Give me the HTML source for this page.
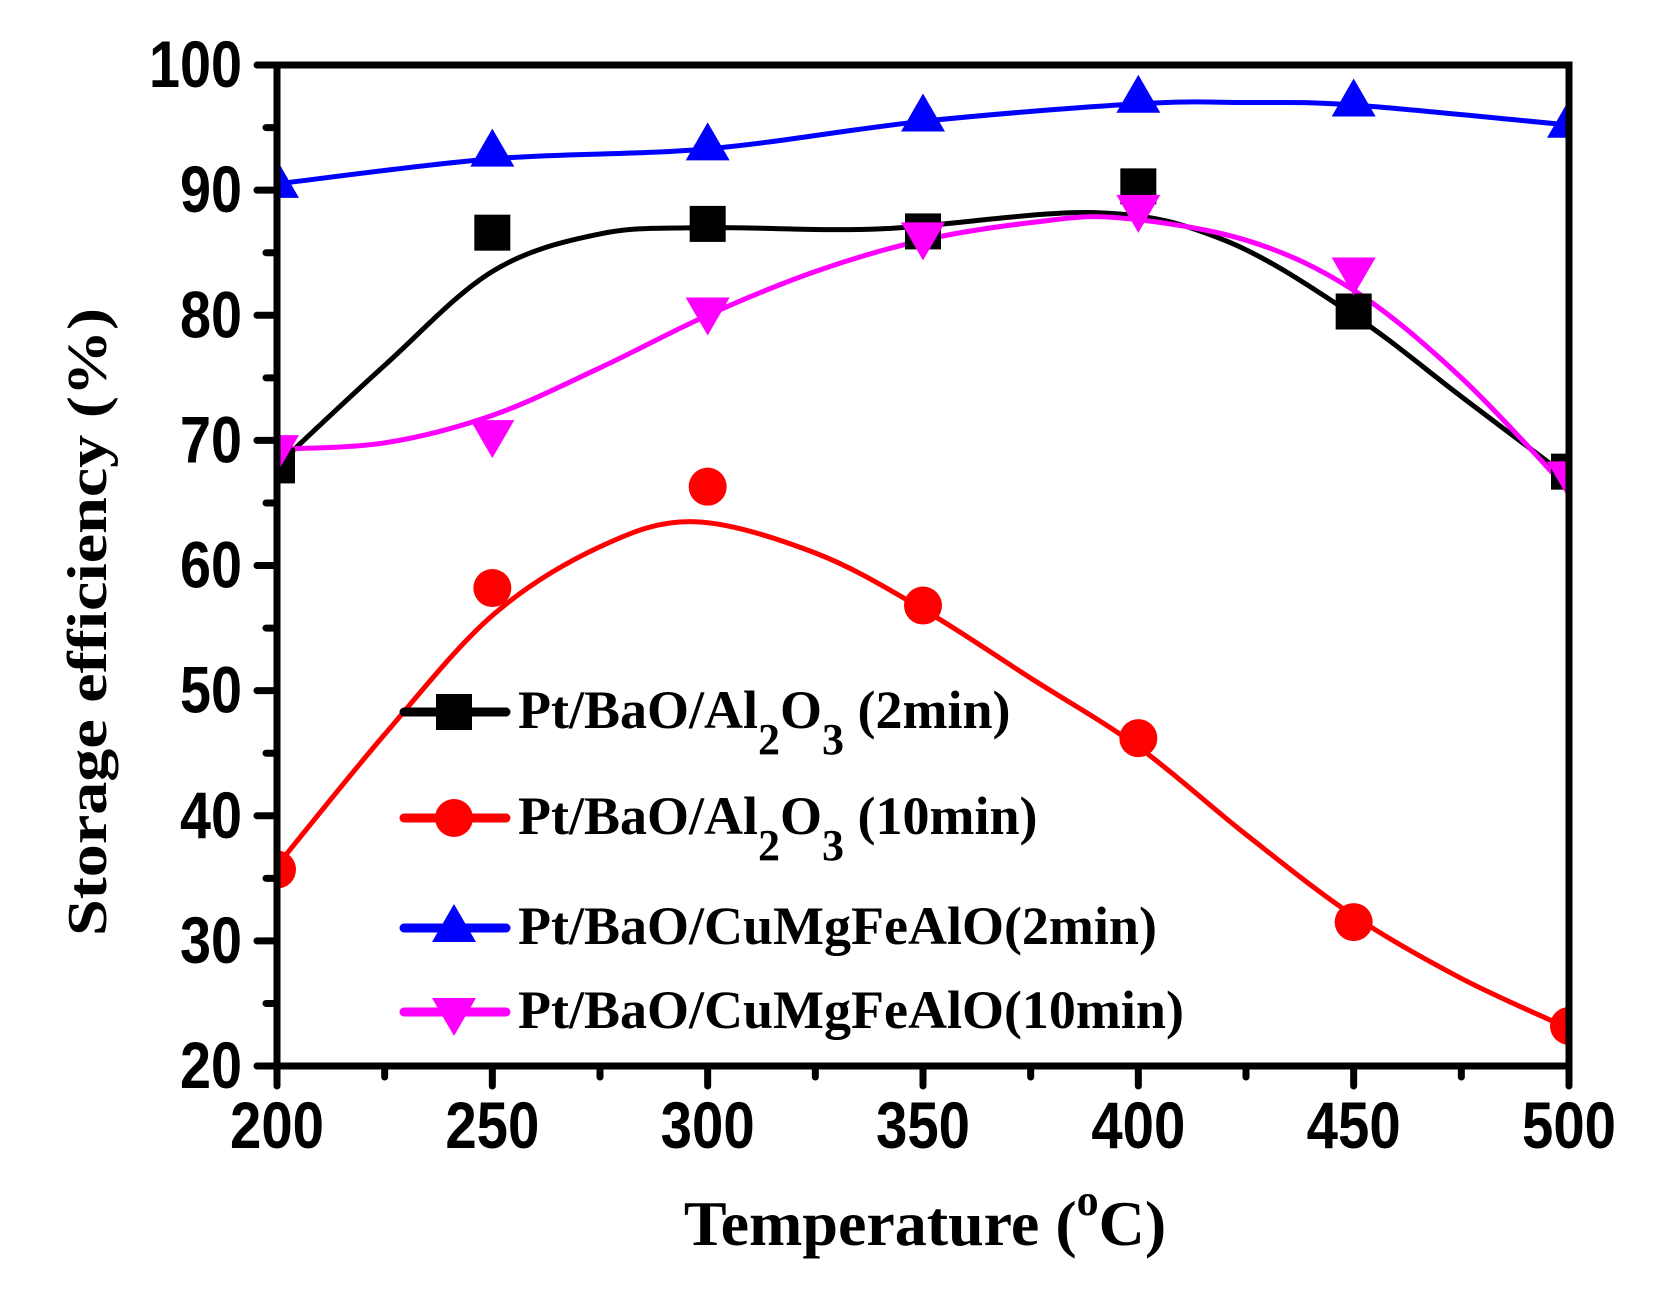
<!DOCTYPE html>
<html><head><meta charset="utf-8"><style>html,body{margin:0;padding:0;background:#fff}svg{display:block}</style></head>
<body>
<svg id="s" width="1659" height="1295" xmlns="http://www.w3.org/2000/svg"></svg>
<script>
const s=document.getElementById('s');
const X0=277,X1=1569,Y0=1066,Y1=65;
const px=v=>X0+(v-200)/300*(X1-X0), py=v=>Y0-(v-20)/80*(Y0-Y1);
let h='';
function cr(pts){let d=`M${pts[0][0]},${pts[0][1]}`;for(let i=0;i<pts.length-1;i++){const p0=pts[i-1]||pts[i],p1=pts[i],p2=pts[i+1],p3=pts[i+2]||p2;
d+=` C${p1[0]+(p2[0]-p0[0])/6},${p1[1]+(p2[1]-p0[1])/6} ${p2[0]-(p3[0]-p1[0])/6},${p2[1]-(p3[1]-p1[1])/6} ${p2[0]},${p2[1]}`;}return d;}
const curves=[
['#000',[[200,68],[225,76],[250,83.5],[275,86.5],[300,87],[340,86.9],[390,88.2],[420,86],[450,80],[475,73.5],[500,67]]],
['#f00',[[200,36],[225,46.5],[250,56],[275,61.5],[297,63.5],[325,61],[350,56.5],[375,51],[400,45.5],[425,38.5],[450,32],[475,27],[500,23]]],
['#00f',[[200,90.5],[250,92.5],[300,93.3],[350,95.5],[400,96.9],[425,97],[450,96.8],[500,95.2]]],
['#f0f',[[200,69.3],[225,69.8],[250,72],[275,75.8],[300,80],[325,83.5],[350,86],[375,87.4],[395,87.8],[425,86],[450,82],[475,75],[500,66]]]];
const pts={
'#000':[68,86.6,87.3,86.7,90.3,80.3,67.5],
'#f00':[35.7,58.2,66.3,56.8,46.2,31.5,23.2],
'#00f':[90.5,93,93.5,95.8,97.3,97,95.3],
'#f0f':[69.3,70.5,80.3,86.3,88.5,83.5,67.2]};
function mk(c,x,y){
 if(c=='#000')return `<rect x="${x-18}" y="${y-18}" width="36" height="36" fill="#000"/>`;
 if(c=='#f00')return `<circle cx="${x}" cy="${y}" r="19" fill="#f00"/>`;
 if(c=='#00f')return `<polygon points="${x},${y-24} ${x+22},${y+14} ${x-22},${y+14}" fill="#00f"/>`;
 return `<polygon points="${x},${y+24} ${x+22},${y-14} ${x-22},${y-14}" fill="#f0f"/>`;}
h+=`<defs><clipPath id="c"><rect x="${X0}" y="${Y1}" width="${X1-X0}" height="${Y0-Y1}"/></clipPath></defs><g clip-path="url(#c)">`;
for(const [c,p] of curves){h+=`<path d="${cr(p.map(q=>[px(q[0]),py(q[1])]))}" fill="none" stroke="${c}" stroke-width="5"/>`;}
for(const c in pts){pts[c].forEach((v,i)=>{h+=mk(c,px(200+50*i),py(v));});}
h+='</g>';
h+=`<rect x="${X0}" y="${Y1}" width="${X1-X0}" height="${Y0-Y1}" fill="none" stroke="#000" stroke-width="7"/>`;
for(let v=20;v<=100;v+=5){const y=py(v),maj=v%10==0;h+=`<line x1="${X0}" x2="${X0-(maj?20:11)}" y1="${y}" y2="${y}" stroke="#000" stroke-width="7" stroke-linecap="round"/>`;
 if(maj){const n=String(v);h+=`<text x="${242}" y="${y+22}" text-anchor="end" font-family="Liberation Sans" font-weight="bold" font-size="66" textLength="${n.length*31}" lengthAdjust="spacingAndGlyphs">${n}</text>`;}}
for(let v=200;v<=500;v+=25){const x=px(v),maj=v%50==0;h+=`<line x1="${x}" x2="${x}" y1="${Y0}" y2="${Y0+(maj?20:11)}" stroke="#000" stroke-width="7" stroke-linecap="round"/>`;
 if(maj)h+=`<text x="${x}" y="1148" text-anchor="middle" font-family="Liberation Sans" font-weight="bold" font-size="66" textLength="94" lengthAdjust="spacingAndGlyphs">${v}</text>`;}
const sub=(t)=>`Pt/BaO/Al<tspan font-size="44" dy="26">2</tspan><tspan dy="-26">O</tspan><tspan font-size="44" dy="26">3</tspan><tspan dy="-26"> ${t}</tspan>`;
const leg=[['#000',712,sub('(2min)')],['#f00',818,sub('(10min)')],
['#00f',928,'Pt/BaO/CuMgFeAlO(2min)'],['#f0f',1012,'Pt/BaO/CuMgFeAlO(10min)']];
for(const [c,y,t] of leg){h+=`<line x1="404" x2="506" y1="${y}" y2="${y}" stroke="${c}" stroke-width="9" stroke-linecap="round"/>`+mk(c,454,y);
 h+=`<text x="518" y="${y+16}" font-family="Liberation Serif" font-weight="bold" font-size="54">${t}</text>`;}
h+=`<text x="925" y="1245" text-anchor="middle" font-family="Liberation Serif" font-weight="bold" font-size="64">Temperature (<tspan font-size="44" dy="-30">o</tspan><tspan dy="30">C)</tspan></text>`;
h+=`<text transform="translate(106,622) rotate(-90)" text-anchor="middle" font-family="Liberation Serif" font-weight="bold" font-size="56" textLength="628" lengthAdjust="spacingAndGlyphs">Storage efficiency (%)</text>`;
s.innerHTML=h;
</script>
</body></html>
